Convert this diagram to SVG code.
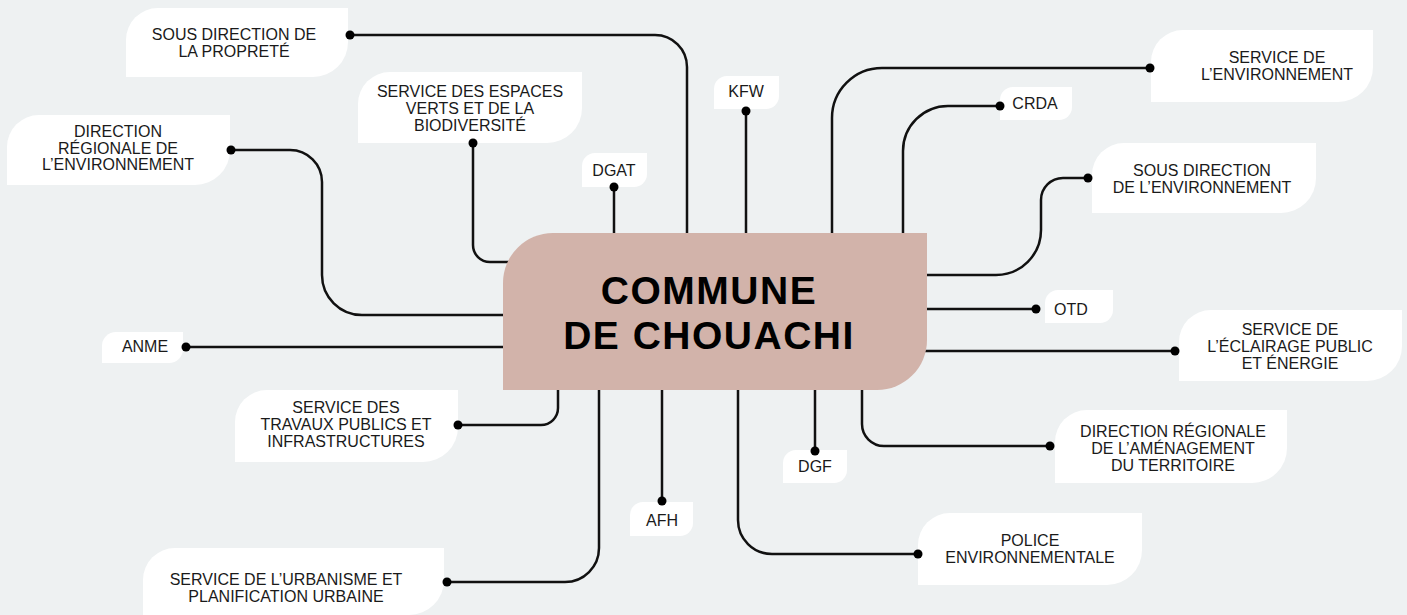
<svg xmlns="http://www.w3.org/2000/svg" width="1407" height="615" viewBox="0 0 1407 615">
<style>
.bg{fill:#eef1f2}
.box{fill:#ffffff}
.lbl{font-family:"Liberation Sans",Arial,sans-serif;font-size:16px;fill:#1a1a1a;text-anchor:middle}
.title{font-family:"Liberation Sans",Arial,sans-serif;font-size:39px;font-weight:bold;letter-spacing:1.5px;fill:#000;text-anchor:middle}
.con path,.con line{fill:none;stroke:#111;stroke-width:2.5}
.dot{fill:#000}
</style>
<rect class="bg" x="0" y="0" width="1407" height="615"/>
<g id="connectors" class="con">
<path d="M350,35 H655 A32,32 0 0 1 687,67 V233"/>
<path d="M473,143 V245 A17,17 0 0 0 490,262 H512"/>
<line x1="614" y1="187" x2="614" y2="233"/>
<line x1="746" y1="111" x2="746" y2="233"/>
<path d="M1150,68 H882 A50,50 0 0 0 832,118 V233"/>
<path d="M1000,106 H948 A45,45 0 0 0 903,151 V233"/>
<path d="M927,275 H996 A45,45 0 0 0 1041,230 V200 A22,22 0 0 1 1063,178 H1088"/>
<line x1="927" y1="309" x2="1036" y2="309"/>
<line x1="924" y1="351" x2="1175" y2="351"/>
<path d="M862,390 V424 A22,22 0 0 0 884,446 H1050"/>
<line x1="815" y1="390" x2="815" y2="451"/>
<path d="M738,390 V520 A34,34 0 0 0 772,554 H918"/>
<line x1="662" y1="390" x2="662" y2="501"/>
<path d="M599,390 V548 A34,34 0 0 1 565,582 H447"/>
<path d="M558,390 V408 A17,17 0 0 1 541,425 H458"/>
<line x1="186" y1="347" x2="503" y2="347"/>
<path d="M231,150 H290 A32,32 0 0 1 322,182 V275 A40,40 0 0 0 362,315 H503"/>
</g>
<g id="center">
<path d="M503,390 V283 A50,50 0 0 1 553,233 H927 V340 A50,50 0 0 1 877,390 Z" fill="#d2b3aa"/>
<text class="title" x="709" y="304">COMMUNE</text>
<text class="title" x="709" y="349">DE CHOUACHI</text>
</g>
<g id="n-proprete">
<path class="box" d="M126,77 V40 A32,32 0 0 1 158,8 H348 V42 A35,35 0 0 1 313,77 Z"/>
<text class="lbl" x="234" y="40">SOUS DIRECTION DE</text>
<text class="lbl" x="234" y="57">LA PROPRETÉ</text>
<circle class="dot" cx="350" cy="35" r="4.5"/>
</g>
<g id="n-espaces">
<path class="box" d="M358,143 V104 A32,32 0 0 1 390,72 H582 V108 A35,35 0 0 1 547,143 Z"/>
<text class="lbl" x="470" y="97">SERVICE DES ESPACES</text>
<text class="lbl" x="470" y="114">VERTS ET DE LA</text>
<text class="lbl" x="470" y="131">BIODIVERSITÉ</text>
<circle class="dot" cx="473" cy="143" r="4.5"/>
</g>
<g id="n-dgat">
<path class="box" d="M582,187 V166 A13,13 0 0 1 595,153 H647 V174 A13,13 0 0 1 634,187 Z"/>
<text class="lbl" x="614" y="176">DGAT</text>
<circle class="dot" cx="614" cy="187" r="4.5"/>
</g>
<g id="n-kfw">
<path class="box" d="M714,109 V89 A13,13 0 0 1 727,76 H779 V96 A13,13 0 0 1 766,109 Z"/>
<text class="lbl" x="746" y="97">KFW</text>
<circle class="dot" cx="746" cy="111" r="4.5"/>
</g>
<g id="n-serv-env">
<path class="box" d="M1151,102 V62 A32,32 0 0 1 1183,30 H1373 V67 A35,35 0 0 1 1338,102 Z"/>
<text class="lbl" x="1277" y="63">SERVICE DE</text>
<text class="lbl" x="1277" y="80">L’ENVIRONNEMENT</text>
<circle class="dot" cx="1150" cy="68" r="4.5"/>
</g>
<g id="n-crda">
<path class="box" d="M1000,120 V100 A13,13 0 0 1 1013,87 H1072 V107 A13,13 0 0 1 1059,120 Z"/>
<text class="lbl" x="1035" y="109">CRDA</text>
<circle class="dot" cx="1000" cy="106" r="4.5"/>
</g>
<g id="n-sous-env">
<path class="box" d="M1092,213 V175 A32,32 0 0 1 1124,143 H1316 V178 A35,35 0 0 1 1281,213 Z"/>
<text class="lbl" x="1202" y="176">SOUS DIRECTION</text>
<text class="lbl" x="1202" y="193">DE L’ENVIRONNEMENT</text>
<circle class="dot" cx="1088" cy="178" r="4.5"/>
</g>
<g id="n-otd">
<path class="box" d="M1045,323 V303 A13,13 0 0 1 1058,290 H1113 V310 A13,13 0 0 1 1100,323 Z"/>
<text class="lbl" x="1071" y="315">OTD</text>
<circle class="dot" cx="1036" cy="309" r="4.5"/>
</g>
<g id="n-eclairage">
<path class="box" d="M1179,381 V342 A32,32 0 0 1 1211,310 H1402 V346 A35,35 0 0 1 1367,381 Z"/>
<text class="lbl" x="1290" y="335">SERVICE DE</text>
<text class="lbl" x="1290" y="352">L’ÉCLAIRAGE PUBLIC</text>
<text class="lbl" x="1290" y="369">ET ÉNERGIE</text>
<circle class="dot" cx="1175" cy="351" r="4.5"/>
</g>
<g id="n-amenagement">
<path class="box" d="M1055,483 V442 A32,32 0 0 1 1087,410 H1287 V448 A35,35 0 0 1 1252,483 Z"/>
<text class="lbl" x="1173" y="437">DIRECTION RÉGIONALE</text>
<text class="lbl" x="1173" y="454">DE L’AMÉNAGEMENT</text>
<text class="lbl" x="1173" y="471">DU TERRITOIRE</text>
<circle class="dot" cx="1050" cy="446" r="4.5"/>
</g>
<g id="n-dgf">
<path class="box" d="M783,483 V463 A13,13 0 0 1 796,450 H847 V470 A13,13 0 0 1 834,483 Z"/>
<text class="lbl" x="815" y="472">DGF</text>
<circle class="dot" cx="815" cy="451" r="4.5"/>
</g>
<g id="n-police">
<path class="box" d="M918,585 V545 A32,32 0 0 1 950,513 H1142 V550 A35,35 0 0 1 1107,585 Z"/>
<text class="lbl" x="1030" y="546">POLICE</text>
<text class="lbl" x="1030" y="563">ENVIRONNEMENTALE</text>
<circle class="dot" cx="918" cy="554" r="4.5"/>
</g>
<g id="n-afh">
<path class="box" d="M630,536 V515 A13,13 0 0 1 643,502 H693 V523 A13,13 0 0 1 680,536 Z"/>
<text class="lbl" x="662" y="526">AFH</text>
<circle class="dot" cx="662" cy="501" r="4.5"/>
</g>
<g id="n-urbanisme">
<path class="box" d="M143,615 V580 A32,32 0 0 1 175,548 H444 V580 A35,35 0 0 1 409,615 Z"/>
<text class="lbl" x="286" y="585">SERVICE DE L’URBANISME ET</text>
<text class="lbl" x="286" y="602">PLANIFICATION URBAINE</text>
<circle class="dot" cx="447" cy="582" r="4.5"/>
</g>
<g id="n-travaux">
<path class="box" d="M235,462 V422 A32,32 0 0 1 267,390 H458 V427 A35,35 0 0 1 423,462 Z"/>
<text class="lbl" x="346" y="413">SERVICE DES</text>
<text class="lbl" x="346" y="430">TRAVAUX PUBLICS ET</text>
<text class="lbl" x="346" y="447">INFRASTRUCTURES</text>
<circle class="dot" cx="458" cy="425" r="4.5"/>
</g>
<g id="n-anme">
<path class="box" d="M102,363 V346 A14,14 0 0 1 116,332 H183 V349 A14,14 0 0 1 169,363 Z"/>
<text class="lbl" x="145" y="352">ANME</text>
<circle class="dot" cx="186" cy="347" r="4.5"/>
</g>
<g id="n-dir-env">
<path class="box" d="M7,185 V147 A32,32 0 0 1 39,115 H230 V150 A35,35 0 0 1 195,185 Z"/>
<text class="lbl" x="118" y="137">DIRECTION</text>
<text class="lbl" x="118" y="154">RÉGIONALE DE</text>
<text class="lbl" x="118" y="170">L’ENVIRONNEMENT</text>
<circle class="dot" cx="231" cy="150" r="4.5"/>
</g>
</svg>
